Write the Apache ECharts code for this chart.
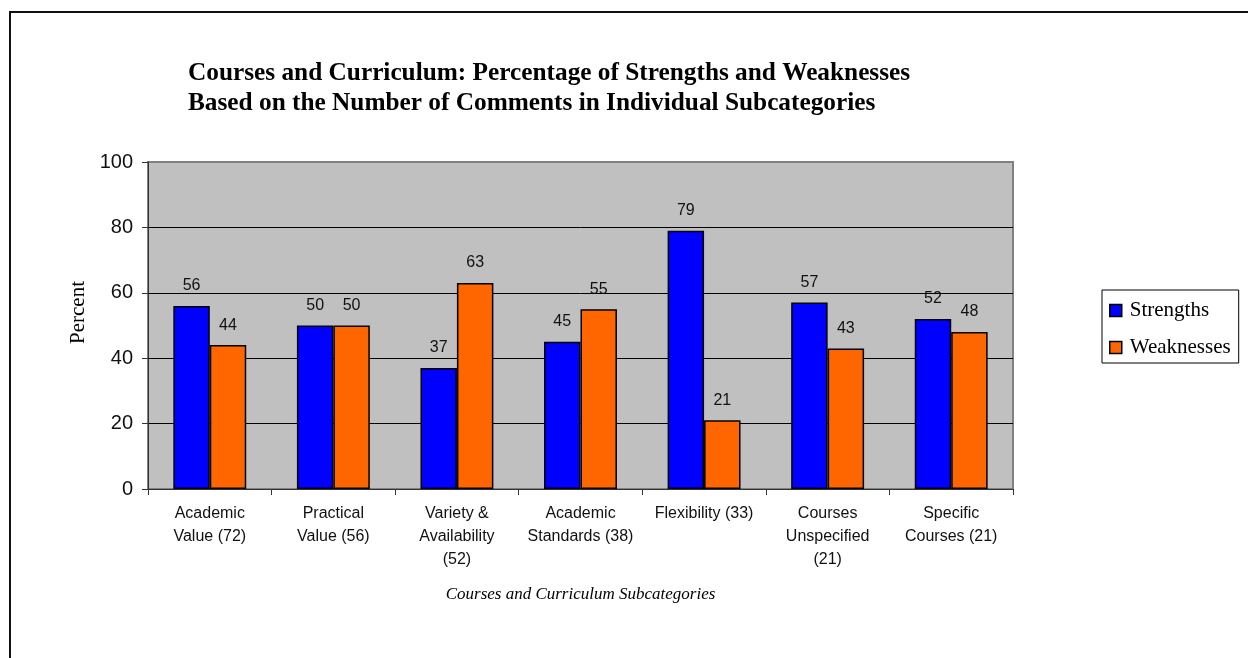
<!DOCTYPE html>
<html>
<head>
<meta charset="utf-8">
<script src="https://cdn.jsdelivr.net/npm/echarts@6/dist/echarts.min.js"></script>
<style>
  html, body { margin: 0; padding: 0; background: #fff; }
  #chart { width: 1248px; height: 658px; }
</style>
</head>
<body>
<div id="chart"></div>
<script>
// Subcategories (number of comments in parentheses)
const categories = [
  'Academic\nValue (72)',
  'Practical\nValue (56)',
  'Variety &\nAvailability\n(52)',
  'Academic\nStandards (38)',
  'Flexibility (33)',
  'Courses\nUnspecified\n(21)',
  'Specific\nCourses (21)'
];
const strengths = [56, 50, 37, 45, 79, 57, 52];
const weaknesses = [44, 50, 63, 55, 21, 43, 48];
const yTicks = [0, 20, 40, 60, 80, 100];

const chart = echarts.init(document.getElementById('chart'), null, { renderer: 'canvas' });

const serif = '"Liberation Serif", "Times New Roman", serif';
const sans = '"Liberation Sans", Arial, sans-serif';

const barLabel = {
  show: true,
  position: 'top',
  distance: 12,
  fontFamily: sans,
  fontSize: 16,
  color: '#111'
};

chart.setOption({
  animation: false,
  backgroundColor: '#fff',
  graphic: [{
    type: 'rect',
    shape: { x: 10, y: 12, width: 1260, height: 700 },
    style: { fill: 'none', stroke: '#111', lineWidth: 2 },
    silent: true
  }],
  title: {
    text: 'Courses and Curriculum: Percentage of Strengths and Weaknesses\nBased on the Number of Comments in Individual Subcategories',
    left: 183,
    top: 53,
    textStyle: {
      fontFamily: serif,
      fontWeight: 'bold',
      fontSize: 25.3,
      lineHeight: 30,
      color: '#000'
    }
  },
  legend: {
    orient: 'vertical',
    left: 1102,
    top: 290,
    padding: [9, 8, 4, 7],
    itemWidth: 12,
    itemHeight: 12,
    itemGap: 14,
    icon: 'rect',
    borderColor: '#000',
    borderWidth: 1,
    backgroundColor: '#fff',
    textStyle: { fontFamily: serif, fontSize: 21, lineHeight: 23, color: '#000', padding: [0, 0, 0, 3] },
    itemStyle: { borderColor: '#000', borderWidth: 1.5 },
    data: ['Strengths', 'Weaknesses']
  },
  grid: {
    left: 148,
    top: 162,
    width: 865,
    height: 327,
    show: true,
    backgroundColor: '#C0C0C0',
    borderColor: '#808080',
    borderWidth: 2
  },
  xAxis: {
    type: 'category',
    data: categories,
    name: 'Courses and Curriculum Subcategories',
    nameLocation: 'middle',
    nameGap: 97,
    nameTextStyle: { fontFamily: serif, fontStyle: 'italic', fontSize: 17, color: '#000' },
    axisLine: { lineStyle: { color: '#333', width: 1 } },
    axisTick: { show: true, length: 6, alignWithLabel: false, lineStyle: { color: '#333' } },
    axisLabel: {
      interval: 0,
      margin: 13,
      fontFamily: sans,
      fontSize: 16,
      lineHeight: 23,
      color: '#111',
      verticalAlign: 'top'
    }
  },
  yAxis: {
    type: 'value',
    min: 0,
    max: 100,
    interval: 20,
    name: 'Percent',
    nameLocation: 'middle',
    nameGap: 52,
    nameRotate: 90,
    nameTextStyle: { fontFamily: serif, fontSize: 21, color: '#000', padding: [0, 0, 0, 26] },
    axisLine: { show: true, lineStyle: { color: '#333', width: 1 } },
    axisTick: { show: true, length: 6, lineStyle: { color: '#333' } },
    axisLabel: {
      margin: 15,
      fontFamily: sans,
      fontSize: 20,
      color: '#111',
      formatter: v => (yTicks.includes(v) ? String(v) : '')
    },
    splitLine: { show: true, showMinLine: false, showMaxLine: false, lineStyle: { color: '#000', width: 1 } }
  },
  series: [
    {
      name: 'Strengths',
      type: 'bar',
      data: strengths,
      barGap: '0%',
      barCategoryGap: '41%',
      itemStyle: { color: '#0000FF', borderColor: '#000', borderWidth: 1.5 },
      label: barLabel
    },
    {
      name: 'Weaknesses',
      type: 'bar',
      data: weaknesses,
      itemStyle: { color: '#FF6600', borderColor: '#000', borderWidth: 1.5 },
      label: barLabel
    }
  ]
});
</script>
</body>
</html>
